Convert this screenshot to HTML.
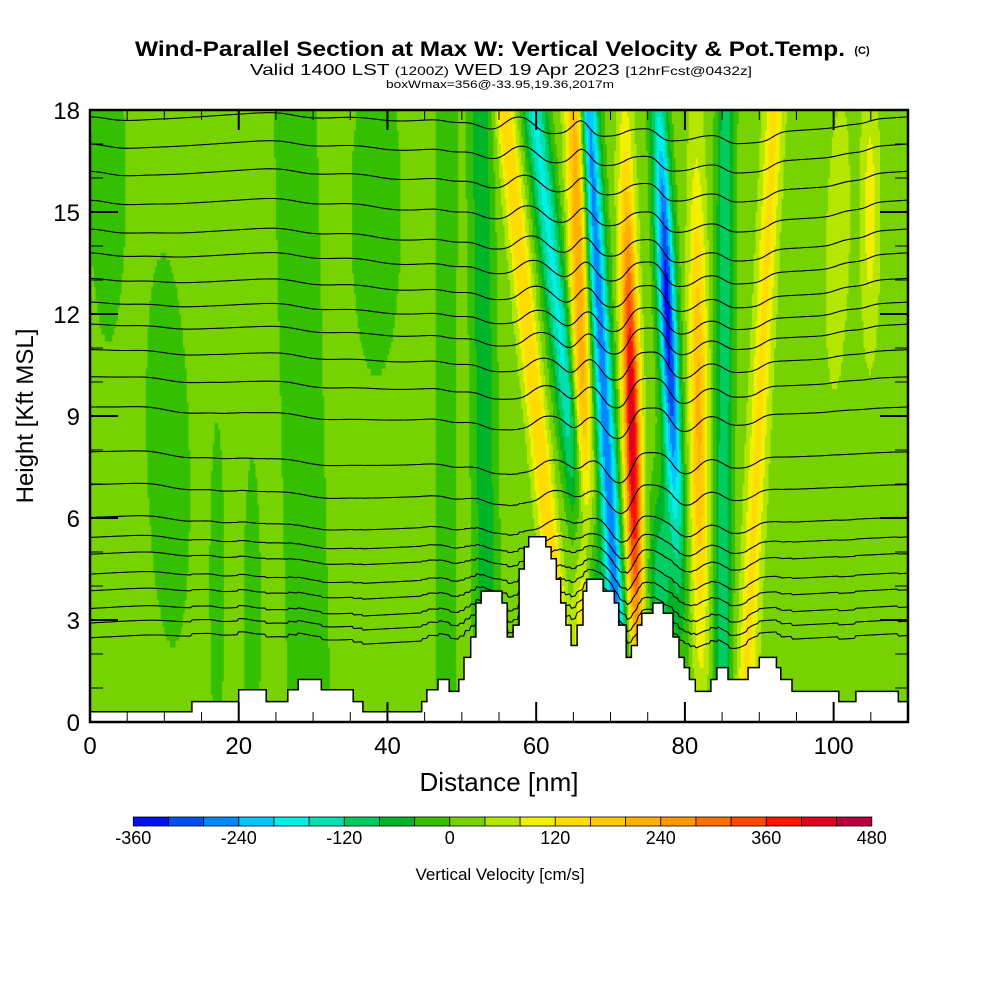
<!DOCTYPE html>
<html>
<head>
<meta charset="utf-8">
<style>
  html,body{margin:0;padding:0;background:#fff;}
  svg{display:block;}
  text{font-family:"Liberation Sans",Arial,sans-serif;}
</style>
</head>
<body>
<svg id="chart" width="1000" height="1000" viewBox="0 0 1000 1000" xmlns="http://www.w3.org/2000/svg">
  <defs>
    <clipPath id="plotclip"><rect x="90" y="110" width="818" height="612"/></clipPath>
  </defs>
  <g>
    <text x="490" y="56" text-anchor="middle" font-size="21" font-weight="bold" textLength="710" lengthAdjust="spacingAndGlyphs">Wind-Parallel Section at Max W: Vertical Velocity &amp; Pot.Temp.</text>
    <text x="862" y="54" text-anchor="middle" font-size="11" font-weight="bold">(C)</text>
    <text x="501" y="75" text-anchor="middle" font-size="16" textLength="502" lengthAdjust="spacingAndGlyphs">Valid 1400 LST <tspan font-size="12">(1200Z)</tspan> WED 19 Apr 2023 <tspan font-size="12">[12hrFcst@0432z]</tspan></text>
    <text x="500" y="88" text-anchor="middle" font-size="11" textLength="228" lengthAdjust="spacingAndGlyphs">boxWmax=356@-33.95,19.36,2017m</text>
  </g>
  <g id="field" clip-path="url(#plotclip)"></g>
  <g id="isen" clip-path="url(#plotclip)"></g>
  <g id="terrain"></g>
  <g id="axes"></g>
  <g id="cbar"></g>
</svg>
<script>
// ---- data ----
const colorLevels = ["#0010f0","#0050f0","#0088ff","#00c8ff","#00f0e8","#00e0b0","#00cc60","#00b428","#34c000","#76d200","#b4e600","#f0f000","#ffdc00","#ffc800","#ffb000","#ff9800","#ff6e00","#ff4800","#ff1400","#e00020","#b80040"];
const cbarTicks = [-360,-240,-120,0,120,240,360,480];
const xTicks = [0,20,40,60,80,100];
const yTicks = [0,3,6,9,12,15,18];
const bgW = 20;
const bandX0    = [2.4, 11.4, 17.1, 21.8, 29.5, 38.5, 47.9, 53.5, 64.3, 69.3, 67.0, 71.5, 73.8, 80.0, 76.7, 82.2, 85.0, 88.0, 99.0, 104.9];
const bandX18   = [2.4, 9.4, 17.1, 21.8, 27.6, 38.5, 47.9, 52.5, 55.8, 59.8, 65.3, 67.0, 71.9, 76.5, 76.7, 81.5, 85.5, 92.0, 101.0, 104.9];
const bandPeak  = [-50,-50,-50,-50,-50,-50,-50,-90,140,-190,220,-290,420,-360,-130,190,-130,110,60,80];
const bandWidth = [2.5,3,1,1.2,3,3.5,1.5,1.6,1.3,1.6,1.3,1.3,1.1,1.2,1.5,1.2,1.2,1.3,1.5,1.2];
const bandHc    = [16,8,4,3,9,15,9,9,9,9,9,9,8.5,12,4,9,9,9,14,15];
const bandHs    = [5,6,5,5,100,5,100,100,100,100,100,100,7,7,3,7,100,100,4,4];
const terrainX = [0,13.7,20.0,23.7,26.6,28.0,31.1,35.4,36.7,44.6,45.3,46.8,48.3,49.6,50.3,51.2,51.9,52.6,55.4,56.1,56.9,57.7,58.4,59.0,61.3,62.0,62.7,63.3,64.0,64.7,65.5,66.3,66.8,69.0,70.5,71.1,72.1,72.8,73.6,74.2,75.7,77.1,78.4,79.2,79.9,80.6,81.4,83.5,84.3,85.8,88.5,90.0,92.3,92.9,94.4,100.7,103.0,108.7,110];
const terrainH = [0.3,0.6,0.95,0.6,0.95,1.25,0.95,0.6,0.3,0.6,0.95,1.25,0.9,1.25,1.9,2.5,3.5,3.85,3.5,2.5,2.85,4.5,5.15,5.45,5.15,4.8,4.2,3.5,2.85,2.25,2.85,3.85,4.2,3.85,3.5,2.85,1.9,2.25,2.85,3.2,3.5,3.2,2.5,1.9,1.6,1.25,0.9,1.25,1.6,1.25,1.6,1.9,1.6,1.25,0.9,0.6,0.9,0.6];
const isenBase = [17.8,17.0,16.2,15.35,14.5,13.8,13.05,12.35,11.7,10.95,10.15,9.26,7.94,6.97,6.0,5.41,4.91,4.32,3.82,3.29,2.85,2.4];

// ---- scales ----
const X = nm => 90 + nm * (818/110);
const Y = h => 722 - h * 34;
const NS = "http://www.w3.org/2000/svg";
function mk(tag, attrs, parent){ const e=document.createElementNS(NS,tag); for(const k in attrs) e.setAttribute(k,attrs[k]); parent.appendChild(e); return e; }

function wAt(x,h){
  let v = bgW;
  for(let i=0;i<bandPeak.length;i++){
    const xc = bandX0[i] + (bandX18[i]-bandX0[i])*h/18;
    const dx = (x-xc)/bandWidth[i], dh=(h-bandHc[i])/bandHs[i];
    v += bandPeak[i]*Math.exp(-dx*dx)*Math.exp(-dh*dh);
  }
  return v;
}
function colorIdx(v){ let i=Math.floor((v+360)/40); return Math.max(0,Math.min(20,i)); }
function terrainAt(x){ for(let i=0;i<terrainH.length;i++){ if(x>=terrainX[i] && x<terrainX[i+1]) return terrainH[i]; } return terrainH[terrainH.length-1]; }

// ---- field ----
const field=document.getElementById('field');
const DX=0.25, DH=0.2;
for(let r=0;r<90;r++){
  const h0=r*DH, hc=h0+DH/2;
  let start=0, cur=colorIdx(wAt(DX/2,hc));
  for(let c=1;c<=440;c++){
    const idx = c<440 ? colorIdx(wAt(c*DX+DX/2,hc)) : -1;
    if(idx!==cur){
      const x0=X(start*DX), x1=X(c*DX);
      const rc=mk('rect',{x:x0.toFixed(2),y:(Y(h0+DH)-0.3).toFixed(2),width:(x1-x0+0.4).toFixed(2),height:(DH*34+0.6).toFixed(2),fill:colorLevels[cur]},field);
      
      
      start=c; cur=idx;
    }
  }
}

// ---- isentropes ----
const isen=document.getElementById('isen');
const K=0.0011, STEP=0.25;
isenBase.forEach(hb=>{
  let mean=0, n=0;
  for(let x=0;x<=110;x+=STEP){ mean+=wAt(x,hb); n++; }
  mean/=n;
  let cum=0, d='';
  for(let x=0;x<=110.001;x+=STEP){
    cum += (wAt(x,hb)-mean)*STEP;
    const h = hb + K*cum + 0.8*terrainAt(x)*Math.exp(-hb/2);
    d += (d?'L':'M')+X(x).toFixed(1)+','+Y(h).toFixed(1);
  }
  const p=mk('path',{d:d,fill:'none',stroke:'#000','stroke-width':1.1},isen);
  
  
});

// ---- terrain ----
(function(){
  const g=document.getElementById('terrain');
  let d='M'+X(0)+','+Y(0);
  for(let i=0;i<terrainH.length;i++){
    d+='L'+X(terrainX[i]).toFixed(1)+','+Y(terrainH[i]).toFixed(1)+'L'+X(terrainX[i+1]).toFixed(1)+','+Y(terrainH[i]).toFixed(1);
  }
  d+='L'+X(110)+','+Y(0)+'Z';
  const p=mk('path',{d:d,fill:'#fff',stroke:'#000','stroke-width':1.5},g);
  
  
})();

// ---- axes ----
(function(){
  const g=document.getElementById('axes');
  for(let v=0;v<=110;v+=5){
    const major = v%20===0, len = major?20:10;
    const t1=mk('line',{x1:X(v),x2:X(v),y1:722,y2:722-len,stroke:'#000','stroke-width':major?2:1},g);
     
    const t2=mk('line',{x1:X(v),x2:X(v),y1:110,y2:110+len,stroke:'#000','stroke-width':major?2:1},g);
     
  }
  for(let v=0;v<=18;v++){
    const major=v%3===0, len=major?28:13;
    const t1=mk('line',{x1:90,x2:90+len,y1:Y(v),y2:Y(v),stroke:'#000','stroke-width':major?2:1},g);
     
    const t2=mk('line',{x1:908,x2:908-len,y1:Y(v),y2:Y(v),stroke:'#000','stroke-width':major?2:1},g);
     
  }
  xTicks.forEach(v=>{
    const t=mk('text',{x:X(v),y:754,'text-anchor':'middle','font-size':24},g);
    t.textContent=v;
     
  });
  yTicks.forEach(v=>{
    const t=mk('text',{x:80,y:Y(v)+9,'text-anchor':'end','font-size':24},g);
    t.textContent=v;
     
  });
  const xt=mk('text',{x:499,y:791,'text-anchor':'middle','font-size':26},g);
  xt.textContent='Distance [nm]';
   
  const yt=mk('text',{x:0,y:0,'text-anchor':'middle','font-size':24,transform:'translate(33,416) rotate(-90)'},g);
  yt.textContent='Height [Kft MSL]';
   
  const fr=mk('rect',{x:90,y:110,width:818,height:612,fill:'none',stroke:'#000','stroke-width':2.5},g);
   
})();

// ---- colorbar ----
(function(){
  const g=document.getElementById('cbar');
  const x0=133.3, x1=871.8, cw=(x1-x0)/colorLevels.length;
  const cx = v => x0 + (v+360)/840*(x1-x0);
  colorLevels.forEach((c,i)=>{
    const r=mk('rect',{x:(x0+i*cw).toFixed(2),y:817,width:cw.toFixed(2),height:9,fill:c,stroke:'#000','stroke-width':0.8},g);
     
  });
  cbarTicks.forEach(v=>{
    const t=mk('text',{x:cx(v),y:844,'text-anchor':'middle','font-size':18},g);
    t.textContent=v;
     
  });
  const t=mk('text',{x:500,y:880,'text-anchor':'middle','font-size':17},g);
  t.textContent='Vertical Velocity [cm/s]';
   
})();
</script>
</body>
</html>
